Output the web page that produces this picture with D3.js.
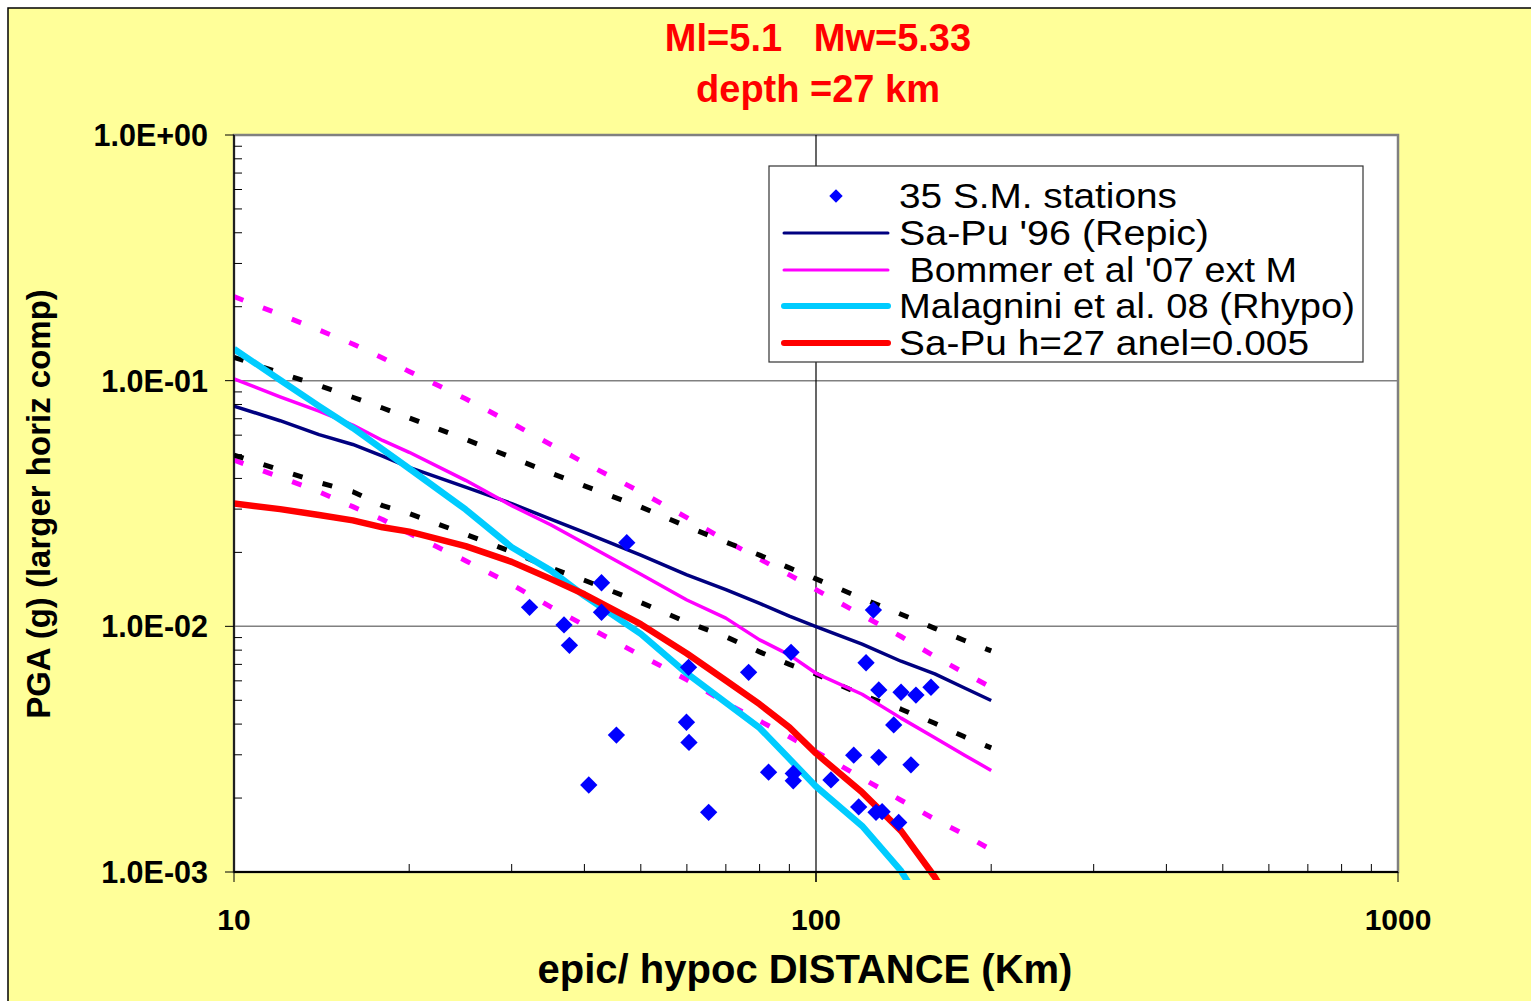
<!DOCTYPE html>
<html>
<head>
<meta charset="utf-8">
<script src="https://cdn.jsdelivr.net/npm/d3@7"></script>
<style>
  body { margin: 0; background: #fff; }
  svg text { font-family: "Liberation Sans", Arial, sans-serif; white-space: pre; }
</style>
</head>
<body>
<div class="plot"></div>
<script>
// distances (km) at which the attenuation curves were tabulated
const distances = [10, 12, 14, 16, 18, 20, 25, 30, 35, 40, 50, 60, 70, 80, 90, 100, 120, 140, 160, 180, 200];

// PGA (g) curves
const saPu96      = [0.0788, 0.0687, 0.0603, 0.0550, 0.0493, 0.0444, 0.0369, 0.0316, 0.0273, 0.0241, 0.0195, 0.0162, 0.0141, 0.0124, 0.0110, 0.00997, 0.00846, 0.00721, 0.00640, 0.00561, 0.00499];
const saPu96Plus  = [0.1245, 0.1075, 0.0956, 0.0856, 0.0774, 0.0705, 0.0577, 0.0487, 0.0421, 0.0373, 0.0306, 0.0255, 0.0220, 0.0195, 0.0173, 0.0156, 0.0130, 0.0112, 0.00981, 0.00876, 0.00794];
const saPu96Minus = [0.0498, 0.0433, 0.0385, 0.0353, 0.0310, 0.0288, 0.0237, 0.0201, 0.0173, 0.0154, 0.0125, 0.0104, 0.00907, 0.00787, 0.00700, 0.00639, 0.00525, 0.00460, 0.00403, 0.00355, 0.00320];
const bommer07      = [0.1016, 0.0860, 0.0752, 0.0660, 0.0571, 0.0511, 0.0393, 0.0310, 0.0259, 0.0218, 0.0163, 0.0128, 0.0108, 0.00881, 0.00765, 0.00644, 0.00529, 0.00423, 0.00352, 0.00299, 0.00259];
const bommer07Plus  = [0.2197, 0.1861, 0.1608, 0.1410, 0.1237, 0.1090, 0.0844, 0.0672, 0.0550, 0.0463, 0.0352, 0.0277, 0.0223, 0.0188, 0.0162, 0.0141, 0.0111, 0.00909, 0.00754, 0.00646, 0.00564];
const bommer07Minus = [0.0475, 0.0405, 0.0353, 0.0307, 0.0272, 0.0239, 0.0185, 0.0148, 0.0120, 0.0101, 0.00762, 0.00606, 0.00488, 0.00412, 0.00355, 0.00309, 0.00241, 0.00196, 0.00164, 0.00142, 0.00123];
const malagnini08 = [0.1346, 0.1006, 0.0788, 0.0642, 0.0525, 0.0439, 0.0299, 0.0210, 0.0169, 0.0133, 0.00932, 0.00643, 0.00489, 0.00386, 0.00289, 0.00223, 0.00154, 0.00101, 0.000608, null, null];
const saPuH27     = [0.0316, 0.0300, 0.0284, 0.0270, 0.0253, 0.0243, 0.0212, 0.0183, 0.0156, 0.0135, 0.0102, 0.00775, 0.00602, 0.00482, 0.00388, 0.00304, 0.00211, 0.00147, 0.000954, 0.000608, null];

// strong motion stations
const stationDist = [47.3, 42.8, 32.2, 42.8, 36.9, 37.7, 125.5, 90.6, 121.9, 60.4, 76.6, 128.2, 140, 148.5, 157.6, 136, 59.9, 45.4, 60.5, 116.1, 128.2, 145.6, 40.7, 82.9, 91.4, 91.4, 106.1, 65.4, 118.4, 126.8, 129.9, 138.7];
const stationPga  = [0.0219, 0.01505, 0.01195, 0.01141, 0.01013, 0.00837, 0.01165, 0.00784, 0.00711, 0.00681, 0.0065, 0.00551, 0.00539, 0.00525, 0.00565, 0.00397, 0.00407, 0.00361, 0.00337, 0.00299, 0.00293, 0.00273, 0.00226, 0.00255, 0.00252, 0.00235, 0.00237, 0.00175, 0.00184, 0.00175, 0.00176, 0.00159];

const xTicks = [10, 100, 1000];
const yTicks = [1, 0.1, 0.01, 0.001];
const legendLabels = ["35 S.M. stations", "Sa-Pu '96 (Repic)", " Bommer et al '07 ext M", "Malagnini et al. 08 (Rhypo)", "Sa-Pu h=27 anel=0.005"];

const W = 1531, H = 1001;
const plot = {left: 234, right: 1398, top: 135, bottom: 872};

const svg = d3.select(".plot").append("svg")
    .attr("width", W)
    .attr("height", H);

// chart background
svg.append("rect")
    .attr("x", 8).attr("y", 8)
    .attr("width", W + 20).attr("height", H + 20)
    .attr("fill", "#ffff99")
    .attr("stroke", "#000")
    .attr("stroke-width", 1.5);

const x = d3.scaleLog().domain([10, 1000]).range([plot.left, plot.right]);
const y = d3.scaleLog().domain([0.001, 1]).range([plot.bottom, plot.top]);

// plot area
svg.append("rect")
    .attr("x", plot.left).attr("y", plot.top)
    .attr("width", plot.right - plot.left)
    .attr("height", plot.bottom - plot.top)
    .attr("fill", "#fff")
    .attr("stroke", "#808080")
    .attr("stroke-width", 2.5);

// gridlines
svg.selectAll(".hgrid")
    .data([0.1, 0.01])
    .enter().append("line")
    .attr("x1", plot.left).attr("x2", plot.right)
    .attr("y1", d => y(d)).attr("y2", d => y(d))
    .attr("stroke", "#808080").attr("stroke-width", 1.5);

svg.append("line")
    .attr("x1", x(100)).attr("x2", x(100))
    .attr("y1", plot.top).attr("y2", plot.bottom + 10)
    .attr("stroke", "#000").attr("stroke-width", 1.2);

// clip for the curves
svg.append("clipPath").attr("id", "clip")
    .append("rect")
    .attr("x", plot.left).attr("y", plot.top)
    .attr("width", plot.right - plot.left)
    .attr("height", plot.bottom - plot.top + 8);

const line = d3.line()
    .defined(d => d[1] != null)
    .x(d => x(d[0]))
    .y(d => y(d[1]));

const series = [
    {vals: bommer07Plus, color: "#ff00ff", width: 5, dash: "10,21"},
    {vals: bommer07Minus, color: "#ff00ff", width: 5, dash: "10,21"},
    {vals: saPu96Plus, color: "#000", width: 5, dash: "10,21"},
    {vals: saPu96Minus, color: "#000", width: 5, dash: "10,21"},
    {vals: saPu96, color: "#000080", width: 3.5, dash: null},
    {vals: bommer07, color: "#ff00ff", width: 3.5, dash: null},
    {vals: malagnini08, color: "#00ccff", width: 6.5, dash: null},
    {vals: saPuH27, color: "#ff0000", width: 6.5, dash: null}
];

const curves = svg.append("g").attr("clip-path", "url(#clip)");
curves.selectAll("path")
    .data(series)
    .enter().append("path")
    .attr("d", s => line(distances.map((d, i) => [d, s.vals[i]])))
    .attr("fill", "none")
    .attr("stroke", s => s.color)
    .attr("stroke-width", s => s.width)
    .attr("stroke-dasharray", s => s.dash)
    .attr("stroke-linejoin", "round");

// stations (diamonds)
const diamond = d3.symbol(d3.symbolSquare, 150);
svg.append("g").selectAll("path")
    .data(stationDist.map((d, i) => [d, stationPga[i]]))
    .enter().append("path")
    .attr("d", diamond)
    .attr("transform", d => `translate(${x(d[0])},${y(d[1])}) rotate(45)`)
    .attr("fill", "#0000ff");

// axes
const fmt = v => {
    const [m, e] = v.toExponential(1).split("e");
    return m + "E" + e[0] + e.slice(1).padStart(2, "0");
};

const yMinor = [];
[0.001, 0.01, 0.1].forEach(b => { for (let k = 2; k <= 9; k++) yMinor.push(b * k); });
const xMinor = [];
[10, 100].forEach(b => { for (let k = 2; k <= 9; k++) xMinor.push(b * k); });

svg.selectAll(".ymin").data(yMinor).enter().append("line")
    .attr("x1", plot.left).attr("x2", plot.left + 8)
    .attr("y1", d => y(d)).attr("y2", d => y(d))
    .attr("stroke", "#000").attr("stroke-width", 1);
svg.selectAll(".ymaj").data(yTicks).enter().append("line")
    .attr("x1", plot.left - 9).attr("x2", plot.left)
    .attr("y1", d => y(d)).attr("y2", d => y(d))
    .attr("stroke", "#000").attr("stroke-width", 1);
svg.selectAll(".xmin").data(xMinor).enter().append("line")
    .attr("x1", d => x(d)).attr("x2", d => x(d))
    .attr("y1", plot.bottom - 8).attr("y2", plot.bottom)
    .attr("stroke", "#000").attr("stroke-width", 1);
svg.selectAll(".xmaj").data(xTicks).enter().append("line")
    .attr("x1", d => x(d)).attr("x2", d => x(d))
    .attr("y1", plot.bottom).attr("y2", plot.bottom + 10)
    .attr("stroke", "#000").attr("stroke-width", 1);

svg.append("line")
    .attr("x1", plot.left).attr("x2", plot.left)
    .attr("y1", plot.top).attr("y2", plot.bottom)
    .attr("stroke", "#000").attr("stroke-width", 1.5);
svg.append("line")
    .attr("x1", plot.left).attr("x2", plot.right)
    .attr("y1", plot.bottom).attr("y2", plot.bottom)
    .attr("stroke", "#000").attr("stroke-width", 2);

svg.selectAll(".ylab").data(yTicks).enter().append("text")
    .attr("x", 208)
    .attr("y", d => y(d) + 11)
    .attr("text-anchor", "end")
    .attr("font-size", 30.5)
    .attr("font-weight", "bold")
    .text(fmt);

svg.selectAll(".xlab").data(xTicks).enter().append("text")
    .attr("x", d => x(d))
    .attr("y", 930)
    .attr("text-anchor", "middle")
    .attr("font-size", 30)
    .attr("font-weight", "bold")
    .text(d => d);

// axis titles
svg.append("text")
    .attr("x", 805).attr("y", 983)
    .attr("text-anchor", "middle")
    .attr("font-size", 40)
    .attr("font-weight", "bold")
    .text("epic/ hypoc DISTANCE (Km)");

svg.append("text")
    .attr("transform", "translate(50,504) rotate(-90)")
    .attr("text-anchor", "middle")
    .attr("font-size", 33)
    .attr("font-weight", "bold")
    .text("PGA (g) (larger horiz comp)");

// title
svg.append("text")
    .attr("x", 818).attr("y", 51)
    .attr("text-anchor", "middle")
    .attr("font-size", 38)
    .attr("font-weight", "bold")
    .attr("fill", "#ff0000")
    .text("Ml=5.1   Mw=5.33");
svg.append("text")
    .attr("x", 818).attr("y", 102)
    .attr("text-anchor", "middle")
    .attr("font-size", 38)
    .attr("font-weight", "bold")
    .attr("fill", "#ff0000")
    .text("depth =27 km");

// legend
const legend = svg.append("g");
legend.append("rect")
    .attr("x", 769).attr("y", 166)
    .attr("width", 594).attr("height", 196)
    .attr("fill", "#fff")
    .attr("stroke", "#333")
    .attr("stroke-width", 1.2);

const rowY = [196, 233, 270, 306, 343];
legend.append("path")
    .attr("d", d3.symbol(d3.symbolSquare, 90))
    .attr("transform", `translate(836,${rowY[0]}) rotate(45)`)
    .attr("fill", "#0000ff");

const legendLines = series.slice(4);
legend.selectAll(".ll").data(legendLines).enter().append("line")
    .attr("x1", 784).attr("x2", 888)
    .attr("y1", (s, i) => rowY[i + 1]).attr("y2", (s, i) => rowY[i + 1])
    .attr("stroke", s => s.color)
    .attr("stroke-width", s => s.width - 0.5)
    .attr("stroke-linecap", "round");

legend.selectAll(".lt").data(legendLabels).enter().append("text")
    .attr("x", 899)
    .attr("y", (d, i) => rowY[i] + 12)
    .attr("font-size", 35)
    .attr("textLength", (d, i) => [278, 310, 398, 456, 410][i])
    .attr("lengthAdjust", "spacingAndGlyphs")
    .text(d => d);
</script>
</body>
</html>
